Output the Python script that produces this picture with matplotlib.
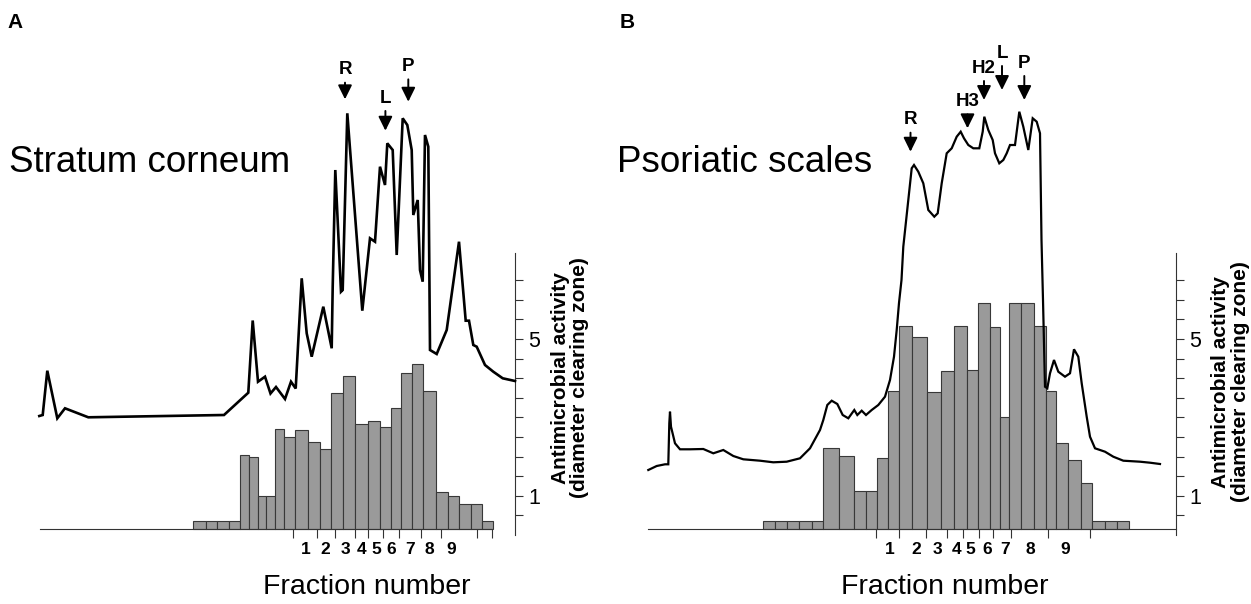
import matplotlib.pyplot as plt
import numpy as np

plt.rcParams['font.family'] = ['Liberation Sans', 'DejaVu Sans']

# ---------------- Panel A: stratum corneum ----------------
a_bar_edges = [193.3, 206, 217.3, 229, 240, 249.3, 257.7, 266, 275, 284.3, 295.3, 308.3,
               320, 331, 343.3, 355, 367.7, 380.3, 390.7, 400.7, 411.7, 423.3, 436,
               447.7, 459, 470.7, 481.7, 492.7]
a_activity = [0.36, 0.36, 0.36, 0.36, 2.04, 2.00, 1.00, 1.00, 2.70, 2.50, 2.67, 2.37,
              2.19, 3.63, 4.06, 2.83, 2.92, 2.76, 3.25, 4.13, 4.36, 3.68, 1.09, 0.99,
              0.78, 0.78, 0.36]
a_trace_x = [39.3, 42.7, 47.3, 57.3, 65, 88.3, 224, 248.3, 252.7, 258, 265, 270.5, 276,
             285, 291, 295.7, 301.7, 306.7, 311.7, 323.3, 331.7, 332.7, 335.3, 341,
             342.7, 347.3, 362.3, 370, 375, 380, 385, 387.3, 392.7, 396.7, 402.7, 407.3,
             411.7, 413.3, 417.7, 420, 422.7, 425, 428.3, 430, 436.7, 446.7, 459, 465.7,
             469, 473.3, 476.7, 485, 493.3, 502.7, 515]
a_trace_y = [119, 120, 164.3, 116.7, 126.7, 117.7, 120, 142.3, 214.5, 153.3, 158.3, 141.5,
             148, 136, 153.3, 146.5, 256.7, 201.7, 178.3, 228.3, 186.7, 248.3, 365, 243.3,
             245, 421.7, 224.3, 296.7, 293.3, 368.3, 350, 391.7, 385, 280, 416.7, 410,
             385, 320, 335, 265, 253.3, 400, 388.3, 185, 181, 205, 293.3, 214.3, 214.3,
             190, 188.3, 170, 163.3, 156.7, 154]
a_fraction_ticks = [293.3, 316.7, 335, 355, 367.7, 382.7, 399, 420.7, 440.7, 476.7, 492.3]
a_fraction_pos = [306, 325, 345, 361.7, 376, 391.3, 410, 429.3, 450.7]
a_peaks = ['R', 'L', 'P']
a_peak_x = [345, 385.4, 408.3]
a_peak_text_y = [465, 436.7, 468.3]
a_peak_tip_y = [435.7, 404.3, 433.3]

# ---------------- Panel B: psoriatic scales ----------------
b_bar_edges = [763.3, 775, 786.7, 799.3, 811.7, 823.3, 839.3, 854.3, 865.7, 876.7, 887.7,
               899, 912.3, 926.7, 940.7, 954, 966.7, 978.3, 990, 1000, 1009.3, 1020.7,
               1034.3, 1045.7, 1056, 1068.3, 1080.7, 1091.7, 1105, 1117.3, 1129.3]
b_activity = [0.36, 0.36, 0.36, 0.36, 0.36, 2.21, 2.02, 1.12, 1.12, 1.97, 3.68, 5.34,
              5.06, 3.64, 4.19, 5.34, 4.21, 5.91, 5.30, 3.02, 5.91, 5.91, 5.34, 3.68,
              2.34, 1.91, 1.33, 0.36, 0.36, 0.36]
b_trace_x = [648.3, 656.7, 665, 668.3, 669.3, 670, 671, 675, 680, 690, 703.3, 713.3, 723.3,
             733.3, 743.3, 760, 773.3, 786.7, 800, 810, 820, 823.3, 827.3, 831.7, 837.3,
             842.7, 848.3, 854.3, 857.3, 861.7, 866, 871.7, 878.3, 885, 890, 894, 896.7,
             899, 901.5, 903.3, 908.3, 911.7, 914, 918.3, 923.3, 928.3, 934.3, 937.7,
             941.7, 946.7, 951.7, 956.7, 960.7, 964, 968.3, 973.3, 979.3, 982.7, 984.3,
             988.3, 992.7, 995, 999.3, 1003.3, 1006.7, 1010, 1015, 1019.3, 1023.3, 1028.3,
             1032.7, 1036.7, 1040, 1041.5, 1043, 1045, 1047.3, 1050, 1054, 1058.3, 1065,
             1070, 1074, 1078.3, 1081.7, 1086.7, 1090, 1095, 1105, 1113.3, 1123.3, 1140,
             1150, 1160]
b_trace_y = [65, 69, 70.7, 70.7, 111.7, 123.3, 108.3, 91.7, 85.7, 85.7, 86, 81.7, 85,
             79, 75.7, 74.3, 72.7, 73.3, 76.7, 86.7, 105, 115, 130, 134.3, 131, 120,
             116.7, 125, 120, 124.3, 120, 125, 130, 138.3, 155, 178.3, 205, 232, 255,
             288.3, 335, 366.7, 370, 363.3, 351.7, 325, 318.3, 321.7, 351.7, 381.7,
             386.7, 398.3, 403.3, 396.7, 390, 386.7, 386.7, 403.3, 418.3, 405, 395,
             381.7, 371.7, 375, 381.7, 390, 390, 423.3, 408.3, 385, 416.7, 413.3, 401.7,
             295, 235, 148.3, 146.7, 161.7, 175, 163.3, 158.3, 161.7, 185.7, 178.3, 151.7,
             118.3, 98.3, 86.7, 83.3, 78.3, 74.3, 73.3, 72.3, 71]
b_fraction_ticks = [875.5, 899.3, 925.7, 946.7, 963.3, 979, 993.3, 1011, 1047.7, 1090]
b_fraction_pos = [889.3, 916.7, 937.7, 956.7, 970, 986.7, 1005, 1030, 1065]
b_peaks = ['R', 'H3', 'H2', 'L', 'P']
b_peak_x = [910.5, 967.5, 984, 1002, 1024.3]
b_peak_text_y = [415, 433.3, 466.7, 481.7, 471.7]
b_peak_tip_y = [383.3, 406.7, 435, 445, 435]

fraction_labels = ['1', '2', '3', '4', '5', '6', '7', '8', '9']
activity_ticks = np.arange(0.5, 7.0, 0.5)

W, H = 1251, 604
fig = plt.figure(figsize=(W / 100, H / 100), dpi=100)

baseline = 0.145
units = 39.2  # trace units per activity unit


def panel(xlim, edges, activity, tx, ty, fticks, fpos, peaks, pk_x, pk_text, pk_tip,
          axis_x, base_bounds, trace_lw):
    ax = fig.add_axes([xlim[0] / W, 0, (xlim[1] - xlim[0]) / W, 1])
    # twin axis for the absorbance trace (made first: twinx resets the tick side)
    tw = ax.twinx()
    ax.patch.set_alpha(0)
    ax.set_xlim(xlim)
    ax.set_ylim(-69 / units, 535 / units)

    edges = np.array(edges)
    heights = np.array(activity) - baseline
    ax.bar(edges[:-1], heights, width=np.diff(edges), bottom=baseline, align='edge',
           color='#9a9a9a', edgecolor='#383838', linewidth=0.8, zorder=2)

    for s in ['top', 'left']:
        ax.spines[s].set_visible(False)
    ax.spines['right'].set_visible(True)
    ax.spines['right'].set_position(('data', axis_x))
    ax.spines['right'].set_bounds(0, 7.19)
    ax.spines['right'].set_color('#333333')
    ax.spines['bottom'].set_position(('data', baseline))
    ax.spines['bottom'].set_bounds(*base_bounds)
    ax.spines['bottom'].set_color('#333333')

    ax.yaxis.set_ticks_position('right')
    ax.set_yticks(activity_ticks)
    ax.set_yticklabels(['1' if t == 1 else '5' if t == 5 else '' for t in activity_ticks])
    ax.tick_params(axis='y', which='both', left=False, labelleft=False, right=True,
                   labelright=True, direction='out', length=5.8, width=0.8,
                   color='#333333', labelsize=15.5, pad=4)

    ax.set_xticks(fticks)
    ax.set_xticklabels([])
    ax.set_xticks(fpos, minor=True)
    ax.set_xticklabels(fraction_labels, minor=True, fontweight='bold', fontsize=12.5)
    ax.tick_params(axis='x', which='major', direction='out', length=6.8, width=0.8,
                   color='#333333')
    ax.tick_params(axis='x', which='minor', length=0, pad=9)

    tw.set_ylim(-69, 535)
    tw.axis('off')
    tw.plot(tx, ty, color='black', linewidth=trace_lw, solid_joinstyle='miter', zorder=3)
    for lab, x, yt, yp in zip(peaks, pk_x, pk_text, pk_tip):
        tw.annotate(lab, xy=(x, yp), xytext=(x, yt), ha='center', va='center',
                    fontsize=13.5, fontweight='bold',
                    arrowprops=dict(arrowstyle='-|>,head_length=0.85,head_width=0.42',
                                    mutation_scale=10, color='black', lw=1.4,
                                    shrinkA=1, shrinkB=0))
    return ax


panel((0, 625.5), a_bar_edges, a_activity, a_trace_x, a_trace_y, a_fraction_ticks,
      a_fraction_pos, a_peaks, a_peak_x, a_peak_text_y, a_peak_tip_y, 515, (39.5, 492.3),
      1.9)
panel((625.5, 1251), b_bar_edges, b_activity, b_trace_x, b_trace_y, b_fraction_ticks,
      b_fraction_pos, b_peaks, b_peak_x, b_peak_text_y, b_peak_tip_y, 1175.7,
      (648.3, 1175.7), 1.6)

# panel letters, sample names, axis titles
fig.text(15 / W, 1 - 22 / H, 'A', fontsize=15, fontweight='bold', ha='center', va='center')
fig.text(627 / W, 1 - 23 / H, 'B', fontsize=15, fontweight='bold', ha='center', va='center')
fig.text(8.7 / W, 1 - 163 / H, 'Stratum corneum', fontsize=26.5, ha='left', va='center')
fig.text(617.4 / W, 1 - 163 / H, 'Psoriatic scales', fontsize=26.5, ha='left', va='center')
for xc in [367, 944.5]:
    fig.text(xc / W, 1 - 587 / H, 'Fraction number', fontsize=20.5, ha='center', va='center')
for xc, yc in [(570, 378), (1230.5, 382)]:
    fig.text(xc / W, 1 - yc / H, 'Antimicrobial activity\n(diameter clearing zone)',
             rotation=90, fontsize=15, fontweight='bold', ha='center', va='center',
             multialignment='center', linespacing=1.05)

fig.savefig('out.png', dpi=100)
